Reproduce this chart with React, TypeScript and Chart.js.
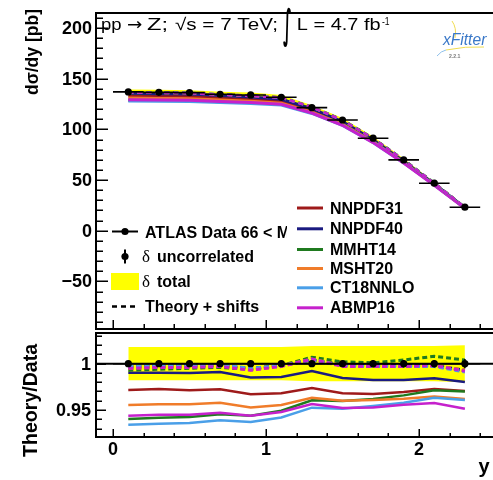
import React, { useEffect, useRef } from "react";
import { Chart, registerables } from "chart.js";

Chart.register(...registerables);

// ---------------- data ----------------
const rapidity = [0.1, 0.3, 0.5, 0.7, 0.9, 1.1, 1.3, 1.5, 1.7, 1.9, 2.1, 2.3];
const binHalfWidth = [0.1, 0.1, 0.1, 0.1, 0.1, 0.1, 0.1, 0.1, 0.1, 0.1, 0.1, 0.1];
const atlasXsec = [137.0, 136.6, 136.3, 134.7, 134.0, 131.7, 121.5, 109.3, 91.3, 69.9, 46.9, 23.2];
const uncorrRel = [0.003, 0.003, 0.003, 0.003, 0.003, 0.003, 0.003, 0.003, 0.004, 0.004, 0.004, 0.005];
const totalRel = [0.018, 0.018, 0.018, 0.018, 0.018, 0.018, 0.019, 0.019, 0.019, 0.019, 0.019, 0.02];

const ratioNNPDF31 = [0.9716, 0.9726, 0.9712, 0.9723, 0.9669, 0.968, 0.9737, 0.968, 0.9672, 0.9694, 0.9726, 0.9705];
const ratioNNPDF40 = [0.9903, 0.9903, 0.9899, 0.991, 0.9852, 0.9856, 0.9921, 0.9845, 0.9824, 0.9824, 0.9842, 0.9802];
const ratioMMHT14 = [0.9402, 0.9417, 0.9424, 0.9453, 0.9438, 0.9492, 0.9604, 0.9597, 0.9618, 0.9658, 0.9712, 0.9701];
const ratioMSHT20 = [0.9554, 0.9561, 0.9561, 0.9579, 0.9528, 0.9554, 0.9633, 0.96, 0.9608, 0.9622, 0.9645, 0.9618];
const ratioCT18NNLO = [0.9341, 0.9352, 0.9359, 0.9388, 0.937, 0.942, 0.9525, 0.9514, 0.9543, 0.9579, 0.9633, 0.9608];
const ratioABMP16 = [0.9438, 0.9449, 0.9449, 0.9471, 0.9438, 0.9478, 0.9564, 0.9521, 0.9528, 0.9557, 0.9575, 0.9514];

const shiftNNPDF31 = [0.996, 0.997, 0.997, 0.998, 0.994, 0.998, 1.004, 0.998, 0.997, 0.997, 0.998, 0.992];
const shiftNNPDF40 = [0.997, 0.997, 0.998, 0.998, 0.995, 0.998, 1.004, 0.999, 0.998, 0.998, 0.998, 0.993];
const shiftMMHT14 = [0.993, 0.994, 0.995, 0.996, 0.994, 0.998, 1.007, 1.002, 1.001, 1.004, 1.008, 1.004];
const shiftMSHT20 = [0.995, 0.996, 0.997, 0.998, 0.993, 0.998, 1.005, 0.998, 0.997, 0.997, 0.998, 0.993];
const shiftCT18NNLO = [0.997, 0.998, 0.998, 0.999, 0.995, 0.998, 1.004, 0.998, 0.997, 0.997, 0.997, 0.991];
const shiftABMP16 = [0.995, 0.996, 0.996, 0.997, 0.993, 0.997, 1.005, 0.997, 0.997, 0.997, 0.998, 0.992];

const theoryNames = ["NNPDF31", "NNPDF40", "MMHT14", "MSHT20", "CT18NNLO", "ABMP16"];
const theoryColors = ["#9e1a1a", "#1a1a80", "#1f7a1f", "#f07c2a", "#4a9fe8", "#c521cc"];
const theoryRatios = [ratioNNPDF31, ratioNNPDF40, ratioMMHT14, ratioMSHT20, ratioCT18NNLO, ratioABMP16];
const theoryShifts = [shiftNNPDF31, shiftNNPDF40, shiftMMHT14, shiftMSHT20, shiftCT18NNLO, shiftABMP16];

const topYTicks = [-50, 0, 50, 100, 150, 200];
const topYTickLabels = ["\u221250", "0", "50", "100", "150", "200"];
const ratioYTicks = [0.95, 1];
const ratioYTickLabels = ["0.95", "1"];
const xTicks = [0, 1, 2];
const xTickLabels = ["0", "1", "2"];

// ---------------- layout ----------------
const W = 493;
const H = 480;
const XMIN = -0.1111;
const XMAX = 2.4837;
const TOP_YMIN = -97.0;
const TOP_YMAX = 214.9;
const BOT_YMIN = 0.92084;
const BOT_YMAX = 1.03315;
const SANS = "'Liberation Sans', Arial, Helvetica, sans-serif";
const SERIF = "'Liberation Serif', 'DejaVu Serif', serif";

function pts(ys: number[]) {
  return rapidity.map((x, i) => ({ x, y: ys[i] }));
}

function fitText(ctx: any, text: string, font: string, x0: number, x1: number, baseline: number, color = "#000") {
  ctx.save();
  ctx.font = font;
  const m = ctx.measureText(text);
  const w = m.actualBoundingBoxLeft + m.actualBoundingBoxRight;
  const s = w > 0 ? (x1 - x0) / w : 1;
  ctx.translate(x0, baseline);
  ctx.scale(s, 1);
  ctx.fillStyle = color;
  ctx.textAlign = "left";
  ctx.textBaseline = "alphabetic";
  ctx.fillText(text, m.actualBoundingBoxLeft, 0);
  ctx.restore();
}

function fitBox(ctx: any, text: string, font: string, x0: number, x1: number, y0: number, y1: number, color = "#000") {
  ctx.save();
  ctx.font = font;
  const m = ctx.measureText(text);
  const w = m.actualBoundingBoxLeft + m.actualBoundingBoxRight;
  const h = m.actualBoundingBoxAscent + m.actualBoundingBoxDescent;
  ctx.translate(x0, y0);
  ctx.scale((x1 - x0) / w, (y1 - y0) / h);
  ctx.fillStyle = color;
  ctx.textAlign = "left";
  ctx.textBaseline = "alphabetic";
  ctx.fillText(text, m.actualBoundingBoxLeft, m.actualBoundingBoxAscent);
  ctx.restore();
}

function rotText(ctx: any, text: string, font: string, baseX: number, yBottom: number, yTop: number) {
  ctx.save();
  ctx.font = font;
  const m = ctx.measureText(text);
  const w = m.actualBoundingBoxLeft + m.actualBoundingBoxRight;
  const s = (yBottom - yTop) / w;
  ctx.translate(baseX, yBottom);
  ctx.rotate(-Math.PI / 2);
  ctx.scale(s, 1);
  ctx.fillStyle = "#000";
  ctx.textAlign = "left";
  ctx.textBaseline = "alphabetic";
  ctx.fillText(text, m.actualBoundingBoxLeft, 0);
  ctx.restore();
}

function drawFrame(chart: any, o: any) {
  const { ctx, chartArea: a, scales } = chart;
  const xs = scales.x;
  const ys = scales.y;
  ctx.save();
  ctx.strokeStyle = "#000";
  ctx.lineWidth = 2;
  ctx.beginPath();
  ctx.moveTo(a.right + 2, a.top);
  ctx.lineTo(a.left, a.top);
  ctx.lineTo(a.left, a.bottom);
  ctx.lineTo(a.right + 2, a.bottom);
  ctx.stroke();

  ctx.lineWidth = 1.5;
  ctx.beginPath();
  for (const v of o.yMinor) {
    const y = Math.round(ys.getPixelForValue(v)) + 0.25;
    ctx.moveTo(a.left, y);
    ctx.lineTo(a.left + o.yMinorLen, y);
  }
  for (const v of o.yMajor) {
    const y = Math.round(ys.getPixelForValue(v)) + 0.25;
    ctx.moveTo(a.left, y);
    ctx.lineTo(a.left + o.yMajorLen, y);
  }
  for (const v of o.xMinor) {
    const x = Math.round(xs.getPixelForValue(v)) + 0.25;
    ctx.moveTo(x, a.bottom);
    ctx.lineTo(x, a.bottom - o.xMinorLen);
  }
  for (const v of o.xMajor) {
    const x = Math.round(xs.getPixelForValue(v)) + 0.25;
    ctx.moveTo(x, a.bottom);
    ctx.lineTo(x, a.bottom - o.xMajorLen);
  }
  ctx.stroke();

  ctx.fillStyle = "#000";
  ctx.font = `bold 18px ${SANS}`;
  ctx.textAlign = "right";
  ctx.textBaseline = "middle";
  o.yMajor.forEach((v: number, i: number) => {
    ctx.fillText(o.yLabels[i], a.left - o.labelGap, ys.getPixelForValue(v) + 1);
  });
  if (o.xLabels) {
    ctx.textAlign = "center";
    ctx.textBaseline = "alphabetic";
    o.xMajor.forEach((v: number, i: number) => {
      ctx.fillText(o.xLabels[i], xs.getPixelForValue(v), 455);
    });
  }
  ctx.restore();
}

const errorBarPlugin = {
  id: "rootErrorBars",
  beforeDatasetDraw(chart: any, args: any) {
    const ds = chart.data.datasets[args.index];
    if (!ds.isData) return;
    const { ctx, scales } = chart;
    const xs = scales.x;
    const ys = scales.y;
    ctx.save();
    ctx.strokeStyle = "#000";
    ctx.lineWidth = 1.6;
    ctx.beginPath();
    ds.data.forEach((p: any, i: number) => {
      const y = ys.getPixelForValue(p.y);
      ctx.moveTo(xs.getPixelForValue(p.x - binHalfWidth[i]), y);
      ctx.lineTo(xs.getPixelForValue(p.x + binHalfWidth[i]), y);
      const e = ds.errY[i];
      const x = xs.getPixelForValue(p.x);
      ctx.moveTo(x, ys.getPixelForValue(p.y - e));
      ctx.lineTo(x, ys.getPixelForValue(p.y + e));
    });
    ctx.stroke();
    ctx.restore();
  },
};

function minorRange(from: number, to: number, step: number, skip: number) {
  const out: number[] = [];
  const n = Math.round((to - from) / step);
  for (let k = 0; k <= n; k++) {
    const v = from + k * step;
    const r = v / skip;
    if (Math.abs(r - Math.round(r)) > 1e-6) out.push(v);
  }
  return out;
}

const xMinor = minorRange(0.2, 2.4, 0.2, 1);

const topDecorPlugin = {
  id: "topDecor",
  afterDraw(chart: any) {
    const { ctx } = chart;
    drawFrame(chart, {
      yMajor: topYTicks,
      yLabels: topYTickLabels,
      yMinor: minorRange(-90, 210, 10, 50),
      yMajorLen: 12,
      yMinorLen: 7,
      xMajor: xTicks,
      xMinor,
      xMajorLen: 9,
      xMinorLen: 5,
      labelGap: 4,
    });

    // axis title
    rotText(ctx, "d\u03c3/dy [pb]", `bold 18px ${SANS}`, 38, 95, 10);

    // plot title
    const tf = `17px ${SANS}`;
    fitText(ctx, "pp", tf, 102, 121, 30);
    fitText(ctx, "\u2192", `17px 'DejaVu Sans', sans-serif`, 127, 142, 30);
    fitText(ctx, "Z;", tf, 147, 167, 30);
    fitText(ctx, "\u221as = 7 TeV;", tf, 175, 277, 30);
    fitBox(ctx, "\u222b", `bold 40px 'DejaVu Sans', sans-serif`, 283, 291, 7, 48);
    fitText(ctx, "L = 4.7 fb", tf, 298, 380, 30);
    fitText(ctx, "-1", `10px ${SANS}`, 382, 390, 25);

    // xFitter logo
    ctx.save();
    ctx.lineWidth = 1;
    ctx.strokeStyle = "#f0dc50";
    ctx.beginPath();
    ctx.moveTo(452, 21);
    ctx.quadraticCurveTo(457, 28, 455, 38);
    ctx.stroke();
    ctx.beginPath();
    ctx.moveTo(446, 50);
    ctx.quadraticCurveTo(466, 46, 484, 47);
    ctx.stroke();
    ctx.strokeStyle = "#8fc0ea";
    ctx.beginPath();
    ctx.moveTo(437, 56);
    ctx.quadraticCurveTo(441, 51, 446, 50);
    ctx.stroke();
    ctx.restore();
    fitText(ctx, "xFitter", `italic 16px ${SANS}`, 442, 487, 45, "#3a78c8");
    fitText(ctx, "2.2.1", `bold 6px ${SANS}`, 449, 461, 58, "#777");

    // left legend
    ctx.save();
    ctx.fillStyle = "#000";
    ctx.strokeStyle = "#000";
    ctx.lineWidth = 2;
    ctx.beginPath();
    ctx.moveTo(112, 231.5);
    ctx.lineTo(138, 231.5);
    ctx.stroke();
    ctx.beginPath();
    ctx.arc(125, 231.5, 3.6, 0, Math.PI * 2);
    ctx.fill();
    ctx.beginPath();
    ctx.moveTo(125, 249.5);
    ctx.lineTo(125, 263.5);
    ctx.stroke();
    ctx.beginPath();
    ctx.arc(125, 256.5, 3.6, 0, Math.PI * 2);
    ctx.fill();
    ctx.fillStyle = "#ffff00";
    ctx.fillRect(111, 273, 28, 17);
    ctx.lineWidth = 2.5;
    ctx.setLineDash([5, 4]);
    ctx.beginPath();
    ctx.moveTo(112, 306.5);
    ctx.lineTo(138, 306.5);
    ctx.stroke();
    ctx.setLineDash([]);

    ctx.fillStyle = "#000";
    ctx.font = `bold 16px ${SANS}`;
    ctx.textAlign = "left";
    ctx.textBaseline = "alphabetic";
    ctx.save();
    ctx.beginPath();
    ctx.rect(0, 200, 287, 50);
    ctx.clip();
    ctx.fillText("ATLAS Data 66 < M\u2097\u2097 < 116 GeV", 145, 237.5);
    ctx.restore();
    ctx.font = `bold 16px ${SANS}`;
    ctx.fillText("uncorrelated", 157, 261.7);
    ctx.fillText("total", 157, 286.7);
    ctx.fillText("Theory + shifts", 145, 311.7);
    ctx.font = `17px ${SERIF}`;
    ctx.fillText("\u03b4", 142, 261.7);
    ctx.fillText("\u03b4", 142, 286.7);

    // right legend
    const baselines = [213.5, 234.3, 255, 274, 293.3, 313.3];
    theoryNames.forEach((name, k) => {
      ctx.strokeStyle = theoryColors[k];
      ctx.lineWidth = 3;
      ctx.beginPath();
      ctx.moveTo(297, baselines[k] - 5.5);
      ctx.lineTo(323, baselines[k] - 5.5);
      ctx.stroke();
      ctx.fillStyle = "#000";
      ctx.font = `bold 16px ${SANS}`;
      ctx.fillText(name, 330, baselines[k]);
    });
    ctx.restore();
  },
};

const bottomDecorPlugin = {
  id: "bottomDecor",
  afterDraw(chart: any) {
    const { ctx } = chart;
    drawFrame(chart, {
      yMajor: ratioYTicks,
      yLabels: ratioYTickLabels,
      yMinor: minorRange(0.93, 1.03, 0.01, 0.05),
      yMajorLen: 10,
      yMinorLen: 6,
      xMajor: xTicks,
      xMinor,
      xMajorLen: 8,
      xMinorLen: 4,
      labelGap: 5,
      xLabels: xTickLabels,
    });
    rotText(ctx, "Theory/Data", `bold 20px ${SANS}`, 37, 457, 343);
    ctx.save();
    ctx.fillStyle = "#000";
    ctx.font = `bold 20px ${SANS}`;
    ctx.textAlign = "center";
    ctx.textBaseline = "alphabetic";
    ctx.fillText("y", 484, 472.5);
    ctx.restore();
  },
};

function buildTopConfig(): any {
  const datasets: any[] = [];
  datasets.push({
    data: pts(atlasXsec.map((v, i) => v * (1 + totalRel[i]))),
    borderColor: "rgba(0,0,0,0)",
    borderWidth: 0,
    pointRadius: 0,
    fill: false,
    order: 40,
  });
  datasets.push({
    data: pts(atlasXsec.map((v, i) => v * (1 - totalRel[i]))),
    borderColor: "rgba(0,0,0,0)",
    borderWidth: 0,
    pointRadius: 0,
    fill: "-1",
    backgroundColor: "#ffff00",
    order: 40,
  });
  theoryNames.forEach((_, k) => {
    datasets.push({
      data: pts(theoryRatios[k].map((r, i) => r * atlasXsec[i])),
      borderColor: theoryColors[k],
      borderWidth: 3,
      pointRadius: 0,
      fill: false,
      order: 30 - k,
    });
  });
  theoryNames.forEach((_, k) => {
    datasets.push({
      data: pts(theoryShifts[k].map((r, i) => r * atlasXsec[i])),
      borderColor: theoryColors[k],
      borderWidth: 2.5,
      borderDash: [5, 4],
      pointRadius: 0,
      fill: false,
      order: 20 - k,
    });
  });
  datasets.push({
    type: "scatter",
    data: pts(atlasXsec),
    errY: atlasXsec.map((v, i) => v * uncorrRel[i]),
    isData: true,
    pointRadius: 3.6,
    backgroundColor: "#000",
    borderWidth: 0,
    order: 0,
  });
  return {
    type: "line",
    data: { datasets },
    options: {
      responsive: false,
      animation: false,
      devicePixelRatio: 1,
      layout: { autoPadding: false, padding: { left: 96, top: 13, right: 0, bottom: H - 329 } },
      scales: {
        x: { type: "linear", min: XMIN, max: XMAX, display: false },
        y: { type: "linear", min: TOP_YMIN, max: TOP_YMAX, display: false },
      },
      plugins: { legend: { display: false }, tooltip: { enabled: false } },
      elements: { line: { tension: 0 }, point: { radius: 0 } },
    },
    plugins: [errorBarPlugin, topDecorPlugin],
  };
}

function buildBottomConfig(): any {
  const datasets: any[] = [];
  datasets.push({
    data: pts(totalRel.map((t) => 1 + t)),
    borderColor: "rgba(0,0,0,0)",
    borderWidth: 0,
    pointRadius: 0,
    fill: false,
    order: 40,
  });
  datasets.push({
    data: pts(totalRel.map((t) => 1 - t)),
    borderColor: "rgba(0,0,0,0)",
    borderWidth: 0,
    pointRadius: 0,
    fill: "-1",
    backgroundColor: "#ffff00",
    order: 40,
  });
  theoryNames.forEach((_, k) => {
    datasets.push({
      data: pts(theoryRatios[k]),
      borderColor: theoryColors[k],
      borderWidth: 2.5,
      pointRadius: 0,
      fill: false,
      order: 30 - k,
    });
  });
  theoryNames.forEach((_, k) => {
    datasets.push({
      data: pts(theoryShifts[k]),
      borderColor: theoryColors[k],
      borderWidth: 3,
      borderDash: [5, 3],
      pointRadius: 0,
      fill: false,
      order: 20 - k,
    });
  });
  datasets.push({
    data: [
      { x: XMIN, y: 1 },
      { x: XMAX, y: 1 },
    ],
    borderColor: "#000",
    borderWidth: 2,
    pointRadius: 0,
    fill: false,
    order: 2,
  });
  datasets.push({
    type: "scatter",
    data: pts(atlasXsec.map(() => 1)),
    errY: uncorrRel,
    isData: true,
    pointRadius: 3.6,
    backgroundColor: "#000",
    borderWidth: 0,
    order: 0,
  });
  return {
    type: "line",
    data: { datasets },
    options: {
      responsive: false,
      animation: false,
      devicePixelRatio: 1,
      layout: { autoPadding: false, padding: { left: 96, top: 333, right: 0, bottom: H - 437 } },
      scales: {
        x: { type: "linear", min: XMIN, max: XMAX, display: false },
        y: { type: "linear", min: BOT_YMIN, max: BOT_YMAX, display: false },
      },
      plugins: { legend: { display: false }, tooltip: { enabled: false } },
      elements: { line: { tension: 0 }, point: { radius: 0 } },
    },
    plugins: [errorBarPlugin, bottomDecorPlugin],
  };
}

export default function App() {
  const topRef = useRef<HTMLCanvasElement>(null);
  const botRef = useRef<HTMLCanvasElement>(null);
  useEffect(() => {
    const c1 = new Chart(topRef.current as HTMLCanvasElement, buildTopConfig());
    const c2 = new Chart(botRef.current as HTMLCanvasElement, buildBottomConfig());
    return () => {
      c1.destroy();
      c2.destroy();
    };
  }, []);
  return (
    <div style={{ position: "fixed", left: 0, top: 0, width: W, height: H, background: "#fff", overflow: "hidden" }}>
      <canvas ref={topRef} width={W} height={H} style={{ position: "absolute", left: 0, top: 0 }} />
      <canvas ref={botRef} width={W} height={H} style={{ position: "absolute", left: 0, top: 0 }} />
    </div>
  );
}
